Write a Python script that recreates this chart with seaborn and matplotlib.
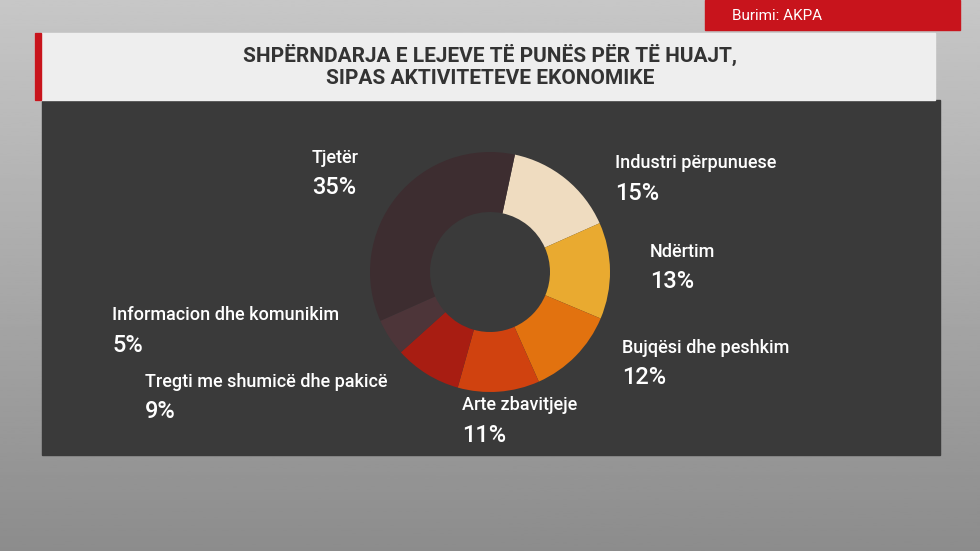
import matplotlib
matplotlib.use("Agg")
import matplotlib.pyplot as plt
import seaborn as sns
import numpy as np
from matplotlib.patches import Rectangle

sns.set_style("white")
plt.rcParams['font.family'] = ['Roboto', 'DejaVu Sans']

categories = ["Industri përpunuese", "Ndërtim", "Bujqësi dhe peshkim", "Arte zbavitjeje",
              "Tregti me shumicë dhe pakicë", "Informacion dhe komunikim", "Tjetër"]
values = [15, 13, 12, 11, 9, 5, 35]
colors = ["#efdcc0", "#e9aa30", "#e2720f", "#d0420f", "#a81d12", "#4d3539", "#3d2d30"]

W, H = 980, 551
fig = plt.figure(figsize=(9.8, 5.51), dpi=100)
bg = fig.add_axes([0, 0, 1, 1])
bg.set_xlim(0, W); bg.set_ylim(H, 0); bg.axis("off")
grad = np.linspace(0.78, 0.55, 200).reshape(-1, 1)
bg.imshow(grad, cmap="gray", vmin=0, vmax=1, extent=[0, W, H, 0], aspect="auto")
bg.add_patch(Rectangle((42, 100), 898, 355, color="#3a3a3a", zorder=2))
bg.add_patch(Rectangle((35, 33), 900, 67, color="#eeeeee", zorder=3))
bg.add_patch(Rectangle((35, 33), 6, 67, color="#c8141c", zorder=4))
bg.add_patch(Rectangle((705, 0), 255, 30, color="#c8141c", zorder=3))
bg.text(732, 16, "Burimi: AKPA", color="white", fontsize=11, va="center", zorder=5)
bg.text(490, 66, "SHPËRNDARJA E LEJEVE TË PUNËS PËR TË HUAJT,\nSIPAS AKTIVITETEVE EKONOMIKE",
        ha="center", va="center", fontsize=15, fontweight="bold", color="#333333",
        linespacing=1.15, zorder=5)

labels = [(615, 163, "left"), (650, 252, "left"), (622, 348, "left"), (462, 405, "left"),
          (145, 382, "left"), (112, 315, "left"), (312, 158, "left")]
for (x, y, ha), c, v in zip(labels, categories, values):
    bg.text(x, y, c, color="white", fontsize=13, fontweight="medium", ha=ha, va="center", zorder=5)
    bg.text(x, y + 30, f"{v}%", color="white", fontsize=17, fontweight="medium", ha=ha, va="center", zorder=5)

r = 120
ax = fig.add_axes([(490 - r) / W, 1 - (272 + r) / H, 2 * r / W, 2 * r / H])
ax.pie(values, colors=colors, startangle=78, counterclock=False,
       wedgeprops=dict(width=0.5, linewidth=0))
ax.set_xlim(-1, 1); ax.set_ylim(-1, 1)
ax.set_aspect("equal"); ax.axis("off")

fig.savefig("out.png", dpi=100)
